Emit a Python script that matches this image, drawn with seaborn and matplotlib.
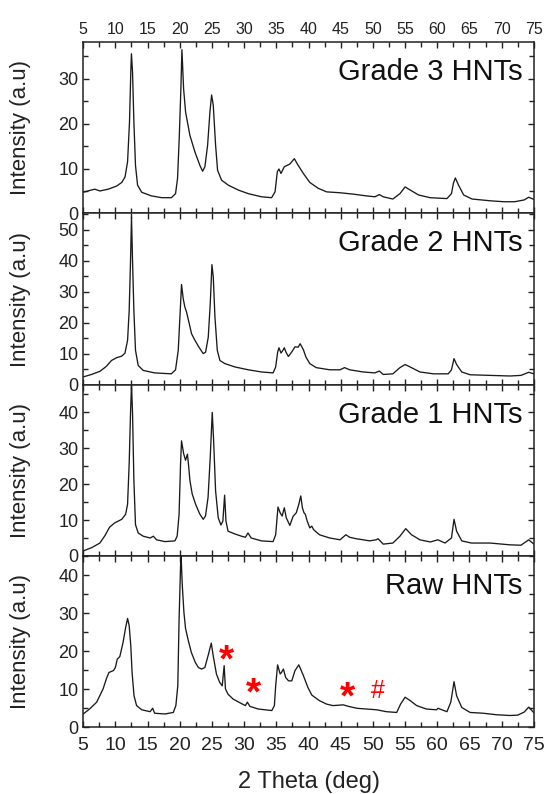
import pandas as pd
import matplotlib
matplotlib.use('Agg')
import matplotlib.pyplot as plt
from matplotlib.ticker import MultipleLocator
import seaborn as sns

# XRD patterns: (2 theta, intensity)
grade3 = [
    (5.0, 4.7), (6.0, 5.1), (6.8, 5.4), (7.6, 5.0), (8.9, 5.4), (10.2, 6.1), (11.0, 6.9),
    (11.5, 8.1), (11.9, 11.5), (12.2, 20.4), (12.4, 31.5), (12.5, 35.6), (12.67, 31.5),
    (12.88, 20.4), (13.13, 10.7), (13.45, 6.3), (14.1, 4.7), (15.6, 3.9), (17.2, 3.5),
    (18.7, 3.5), (19.35, 4.4), (19.66, 7.8), (19.92, 16.7), (20.18, 27.8), (20.34, 36.5),
    (20.6, 27.8), (20.91, 22.6), (21.58, 17.4), (22.36, 13.7), (23.13, 10.7), (23.55, 9.4),
    (23.91, 10.4), (24.33, 15.2), (24.69, 22.6), (24.95, 26.4), (25.21, 24.1), (25.57, 15.2),
    (25.88, 9.6), (26.5, 7.4), (27.54, 6.3), (29.1, 5.2), (30.65, 4.4), (32.7, 3.7),
    (34.27, 3.5), (34.8, 4.8), (35.16, 9.3), (35.41, 9.9), (35.73, 8.9), (36.24, 10.4),
    (37.1, 11.0), (37.8, 12.2), (38.4, 10.7), (39.2, 8.9), (40.2, 6.9), (41.5, 5.6),
    (42.8, 4.8), (44.9, 4.6), (46.9, 4.3), (49.0, 3.9), (50.3, 3.7), (51.0, 4.2), (51.6, 3.7),
    (53.1, 3.2), (54.2, 4.4), (55.0, 5.9), (55.8, 5.2), (57.1, 4.1), (58.9, 3.5), (61.5, 3.3),
    (62.2, 4.4), (62.5, 6.7), (62.8, 7.9), (63.3, 6.3), (64.1, 4.1), (65.4, 3.2), (68.3, 2.8),
    (70.3, 2.6), (72.0, 2.6), (73.5, 3.0), (74.2, 3.6), (74.7, 3.3), (75.0, 3.1),
]

grade2 = [
    (5.0, 2.5), (6.3, 3.3), (7.6, 4.3), (8.6, 5.9), (9.4, 7.8), (10.2, 8.7), (11.0, 9.2),
    (11.5, 10.2), (11.9, 14.3), (12.15, 23.9), (12.36, 40.0), (12.51, 54.0), (12.67, 40.0),
    (12.88, 23.9), (13.13, 11.1), (13.55, 6.2), (14.33, 4.6), (16.1, 3.8), (18.7, 3.5),
    (19.35, 4.8), (19.77, 11.1), (20.08, 23.9), (20.28, 32.3), (20.54, 27.7), (20.8, 25.0),
    (21.06, 23.4), (21.42, 20.2), (21.84, 16.4), (22.36, 14.3), (22.98, 12.1), (23.65, 10.0),
    (24.02, 10.5), (24.43, 15.3), (24.74, 26.1), (25.0, 38.7), (25.21, 34.7), (25.47, 21.8),
    (25.83, 11.1), (26.24, 7.8), (27.0, 6.8), (28.6, 5.7), (30.65, 4.8), (32.7, 4.1),
    (34.5, 3.8), (34.9, 5.7), (35.21, 10.5), (35.41, 11.9), (35.73, 10.2), (36.04, 11.1),
    (36.24, 11.9), (36.5, 10.5), (36.87, 9.1), (37.38, 10.5), (37.9, 12.2), (38.4, 12.1),
    (38.7, 13.2), (39.2, 11.3), (39.6, 8.9), (40.2, 6.8), (41.2, 5.5), (43.3, 4.8),
    (44.9, 4.8), (45.6, 5.5), (46.4, 4.8), (48.5, 4.1), (50.3, 3.8), (51.0, 4.4), (51.6, 3.3),
    (53.1, 3.5), (54.2, 5.5), (55.0, 6.5), (55.8, 5.7), (57.3, 4.1), (59.4, 3.5), (61.7, 3.5),
    (62.2, 4.8), (62.6, 8.4), (63.0, 6.5), (63.8, 4.1), (65.1, 3.2), (68.2, 3.0), (71.3, 2.8),
    (73.0, 3.0), (74.2, 4.0), (75.0, 3.5),
]

grade1 = [
    (5.0, 1.4), (6.3, 2.3), (7.6, 3.6), (8.4, 5.7), (9.1, 8.0), (9.9, 9.2), (11.0, 10.2),
    (11.6, 11.6), (11.9, 14.4), (12.15, 25.7), (12.36, 39.8), (12.51, 47.7), (12.67, 39.8),
    (12.88, 21.0), (13.13, 8.7), (13.55, 6.4), (14.33, 5.5), (15.4, 5.0), (15.9, 5.5),
    (16.4, 4.5), (17.7, 4.0), (19.25, 4.2), (19.6, 5.5), (19.9, 11.6), (20.13, 25.7),
    (20.28, 32.0), (20.6, 28.5), (20.9, 26.6), (21.2, 28.3), (21.4, 24.7), (21.58, 21.0),
    (21.94, 17.2), (22.46, 14.4), (23.13, 11.6), (23.65, 10.2), (24.0, 11.1), (24.4, 16.3),
    (24.74, 27.5), (25.05, 39.9), (25.26, 32.2), (25.57, 18.1), (25.98, 10.6), (26.4, 8.6),
    (26.7, 9.7), (26.97, 16.9), (27.18, 9.7), (27.5, 6.9), (28.6, 6.1), (29.6, 5.5),
    (30.2, 5.2), (30.6, 6.4), (31.1, 5.0), (32.7, 4.2), (34.5, 4.0), (34.9, 5.9),
    (35.26, 13.6), (35.6, 12.0), (35.9, 11.1), (36.24, 13.4), (36.55, 10.6), (37.1, 8.5),
    (37.6, 11.0), (38.1, 12.0), (38.5, 14.4), (38.8, 16.7), (39.05, 13.4), (39.3, 12.0),
    (39.5, 11.6), (39.8, 9.7), (40.2, 7.8), (40.5, 8.3), (40.8, 7.3), (41.7, 5.9), (43.3, 5.0),
    (44.9, 4.5), (45.8, 5.9), (46.4, 5.2), (47.4, 4.8), (48.5, 4.5), (49.5, 4.2), (50.5, 4.5),
    (50.8, 4.8), (51.6, 3.3), (53.1, 3.6), (54.2, 5.5), (55.1, 7.6), (56.0, 5.9), (57.3, 4.5),
    (58.9, 3.9), (60.1, 4.5), (61.2, 3.6), (62.2, 5.0), (62.6, 10.2), (63.0, 6.9), (63.8, 4.2),
    (65.3, 3.6), (68.2, 3.6), (71.3, 3.1), (73.0, 3.0), (74.2, 4.5), (75.0, 3.3),
]

raw = [
    (5.0, 3.5), (6.0, 4.8), (7.1, 6.6), (8.1, 10.1), (8.6, 12.7), (9.0, 14.4), (9.7, 14.9),
    (10.0, 15.7), (10.3, 17.9), (10.7, 18.6), (11.2, 22.3), (11.6, 26.2), (11.9, 28.6),
    (12.15, 26.7), (12.4, 21.4), (12.6, 14.4), (12.9, 8.3), (13.3, 5.7), (14.1, 4.6),
    (15.4, 4.1), (15.8, 5.0), (16.1, 3.7), (17.7, 3.5), (19.0, 3.9), (19.4, 5.7), (19.7, 10.9),
    (19.9, 28.4), (20.13, 42.4), (20.2, 45.5), (20.4, 37.2), (20.65, 30.2), (20.9, 26.0),
    (21.3, 23.0), (21.8, 19.7), (22.4, 17.1), (22.9, 15.7), (23.4, 15.3), (23.9, 15.7),
    (24.4, 18.8), (24.9, 22.1), (25.2, 18.8), (25.7, 14.0), (26.2, 11.8), (26.6, 10.9),
    (26.9, 16.2), (27.1, 10.1), (27.5, 8.7), (28.3, 7.4), (29.4, 6.4), (30.2, 5.7), (30.5, 6.6),
    (30.9, 5.5), (32.2, 4.8), (34.3, 4.4), (34.7, 5.7), (34.9, 10.9), (35.2, 16.4), (35.6, 14.0),
    (35.8, 14.4), (36.1, 15.3), (36.45, 13.1), (36.9, 12.2), (37.4, 12.2), (37.9, 14.9),
    (38.5, 16.4), (39.2, 13.6), (39.9, 10.5), (40.5, 8.5), (40.8, 8.1), (41.7, 7.0), (42.8, 6.1),
    (43.8, 5.7), (45.4, 5.9), (46.2, 5.5), (47.5, 5.0), (49.0, 4.8), (50.6, 4.6), (52.1, 4.1),
    (53.7, 3.9), (54.3, 6.1), (55.0, 7.9), (55.8, 7.0), (56.8, 5.7), (58.3, 4.8), (59.9, 4.6),
    (60.1, 5.0), (61.5, 4.1), (62.1, 6.6), (62.6, 12.0), (63.0, 8.3), (63.8, 5.2), (65.1, 3.9),
    (67.1, 3.7), (69.2, 3.3), (71.3, 3.1), (72.5, 3.2), (73.5, 4.0), (74.2, 5.3), (74.8, 4.2),
    (75.0, 3.8),
]

panel_names = ['Grade 3 HNTs', 'Grade 2 HNTs', 'Grade 1 HNTs', 'Raw HNTs']
panel_data = [grade3, grade2, grade1, raw]
panel_ymax = [38.2, 55.2, 47.6, 45.0]

# impurity markers on the raw pattern
star_x = [27.2, 31.4, 46.0]
star_y = [17.2, 8.5, 7.7]
hash_x = [50.8]
hash_y = [9.6]

sns.set_style('ticks')
plt.rcParams['font.family'] = ['Liberation Sans', 'DejaVu Sans']

fig, axes = plt.subplots(4, 1, sharex=True, figsize=(5.47, 7.94), dpi=100)
fig.subplots_adjust(left=0.152, right=0.976, top=0.947, bottom=0.084, hspace=0)

for ax, name, pts, ymax in zip(axes, panel_names, panel_data, panel_ymax):
    df = pd.DataFrame(pts, columns=['two_theta', 'intensity'])
    sns.lineplot(data=df, x='two_theta', y='intensity', ax=ax,
                 color='#1a1a1a', linewidth=0.95, legend=False)
    ax.set_xlim(5, 75)
    ax.set_ylim(0, ymax)
    ax.xaxis.set_major_locator(MultipleLocator(5))
    ax.xaxis.set_minor_locator(MultipleLocator(2.5))
    ax.yaxis.set_major_locator(MultipleLocator(10))
    ax.yaxis.set_minor_locator(MultipleLocator(5))
    ax.tick_params(which='both', direction='in', top=True, right=True,
                   color='#222222', width=1.0)
    ax.tick_params(which='major', length=4.5)
    ax.tick_params(which='minor', length=3.5)
    ax.tick_params(axis='y', labelsize=13, colors='#222222')
    for s in ax.spines.values():
        s.set_color('#222222')
        s.set_linewidth(1.1)
    ax.set_xlabel('')
    ax.set_ylabel('Intensity (a.u)', fontsize=16, color='#222222')
    ax.yaxis.set_label_coords(-0.115, 0.5)
    ax.text(0.975, 0.825, name, transform=ax.transAxes, ha='right', va='center',
            fontsize=21, color='#111111')

axes[0].tick_params(axis='x', labeltop=True, labelsize=11.5, colors='#222222')
axes[-1].tick_params(axis='x', labelbottom=True, labelsize=14, pad=7, colors='#222222')
axes[-1].set_xlabel('2 Theta (deg)', fontsize=17, color='#222222', labelpad=12)

for x, y in zip(star_x, star_y):
    axes[-1].text(x, y, '*', color='red', fontsize=28, fontweight='bold',
                  ha='center', va='center')
for x, y in zip(hash_x, hash_y):
    axes[-1].text(x, y, '#', color='red', fontsize=18, ha='center', va='center')

fig.savefig('out.png', dpi=100)
